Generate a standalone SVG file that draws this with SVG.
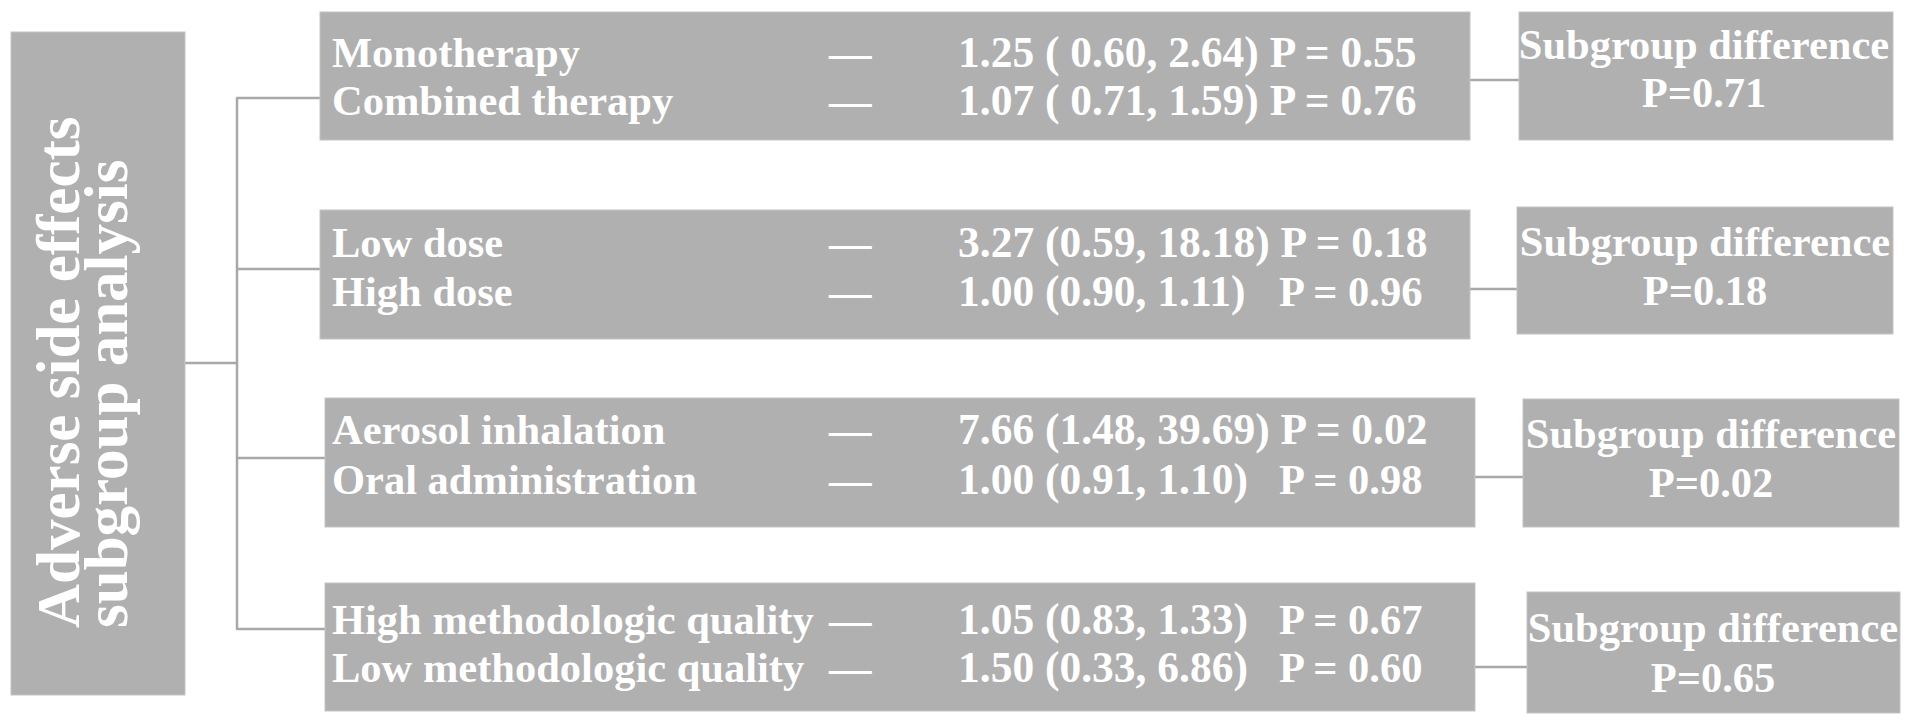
<svg xmlns="http://www.w3.org/2000/svg" width="1913" height="726" viewBox="0 0 1913 726">
<style>
.box{fill:#b0b0b0;stroke:#c4c4c4;stroke-width:1}
.t{font-family:"Liberation Serif","Times New Roman",serif;font-weight:bold;fill:#ffffff;font-size:42.5px}
.n{font-size:43.5px}
.c{text-anchor:middle}
.title{font-family:"Liberation Serif","Times New Roman",serif;font-weight:bold;fill:#ffffff;font-size:61px}
.ln{fill:none;stroke:#a8a8a8;stroke-width:2.5;stroke-linejoin:round}
</style>
<rect width="1913" height="726" fill="#ffffff"/>
<g id="connectors">
<path class="ln" d="M185 363H237"/>
<path class="ln" d="M320 98H237V629H325"/>
<path class="ln" d="M237 269H320"/>
<path class="ln" d="M237 458H325"/>
<path class="ln" d="M1470 80H1519"/>
<path class="ln" d="M1470 289H1517"/>
<path class="ln" d="M1475 477H1523"/>
<path class="ln" d="M1475 667H1527"/>
</g>
<g id="root">
<rect class="box" x="11" y="32" width="174" height="663"/>
<text class="title" transform="translate(79,628) rotate(-90)">Adverse side effects</text>
<text class="title" transform="translate(127,628) rotate(-90)">subgroup analysis</text>
</g>
<g id="therapy">
<rect class="box" x="320" y="12" width="1150" height="128"/>
<text class="t" x="332" y="67">Monotherapy</text>
<text class="t" x="829" y="67">—</text>
<text class="t n" x="958" y="67">1.25 ( 0.60, 2.64) P = 0.55</text>
<text class="t" x="332" y="115">Combined therapy</text>
<text class="t" x="829" y="115">—</text>
<text class="t n" x="958" y="115">1.07 ( 0.71, 1.59) P = 0.76</text>
</g>
<g id="dose">
<rect class="box" x="320" y="210" width="1150" height="129"/>
<text class="t" x="332" y="257">Low dose</text>
<text class="t" x="829" y="257">—</text>
<text class="t n" x="958" y="257">3.27 (0.59, 18.18) P = 0.18</text>
<text class="t" x="332" y="306">High dose</text>
<text class="t" x="829" y="306">—</text>
<text class="t" y="306"><tspan class="n" x="958">1.00 (0.90, 1.11)</tspan><tspan x="1279">P = 0.96</tspan></text>
</g>
<g id="route">
<rect class="box" x="325" y="398" width="1150" height="129"/>
<text class="t" x="332" y="444">Aerosol inhalation</text>
<text class="t" x="829" y="444">—</text>
<text class="t n" x="958" y="444">7.66 (1.48, 39.69) P = 0.02</text>
<text class="t" x="332" y="494">Oral administration</text>
<text class="t" x="829" y="494">—</text>
<text class="t" y="494"><tspan class="n" x="958">1.00 (0.91, 1.10)</tspan><tspan x="1279">P = 0.98</tspan></text>
</g>
<g id="quality">
<rect class="box" x="325" y="583" width="1150" height="128"/>
<text class="t" x="332" y="634">High methodologic quality</text>
<text class="t" x="829" y="634">—</text>
<text class="t" y="634"><tspan class="n" x="958">1.05 (0.83, 1.33)</tspan><tspan x="1279">P = 0.67</tspan></text>
<text class="t" x="332" y="682">Low methodologic quality</text>
<text class="t" x="829" y="682">—</text>
<text class="t" y="682"><tspan class="n" x="958">1.50 (0.33, 6.86)</tspan><tspan x="1279">P = 0.60</tspan></text>
</g>
<g id="diff-therapy">
<rect class="box" x="1519" y="12" width="374" height="128"/>
<text class="t c" x="1704" y="59">Subgroup difference</text>
<text class="t c" x="1704" y="107">P=0.71</text>
</g>
<g id="diff-dose">
<rect class="box" x="1517" y="207" width="376" height="127"/>
<text class="t c" x="1705" y="256">Subgroup difference</text>
<text class="t c" x="1705" y="305">P=0.18</text>
</g>
<g id="diff-route">
<rect class="box" x="1523" y="399" width="376" height="128"/>
<text class="t c" x="1711" y="448">Subgroup difference</text>
<text class="t c" x="1711" y="497">P=0.02</text>
</g>
<g id="diff-quality">
<rect class="box" x="1527" y="592" width="373" height="121"/>
<text class="t c" x="1713" y="642">Subgroup difference</text>
<text class="t c" x="1713" y="692">P=0.65</text>
</g>
</svg>
